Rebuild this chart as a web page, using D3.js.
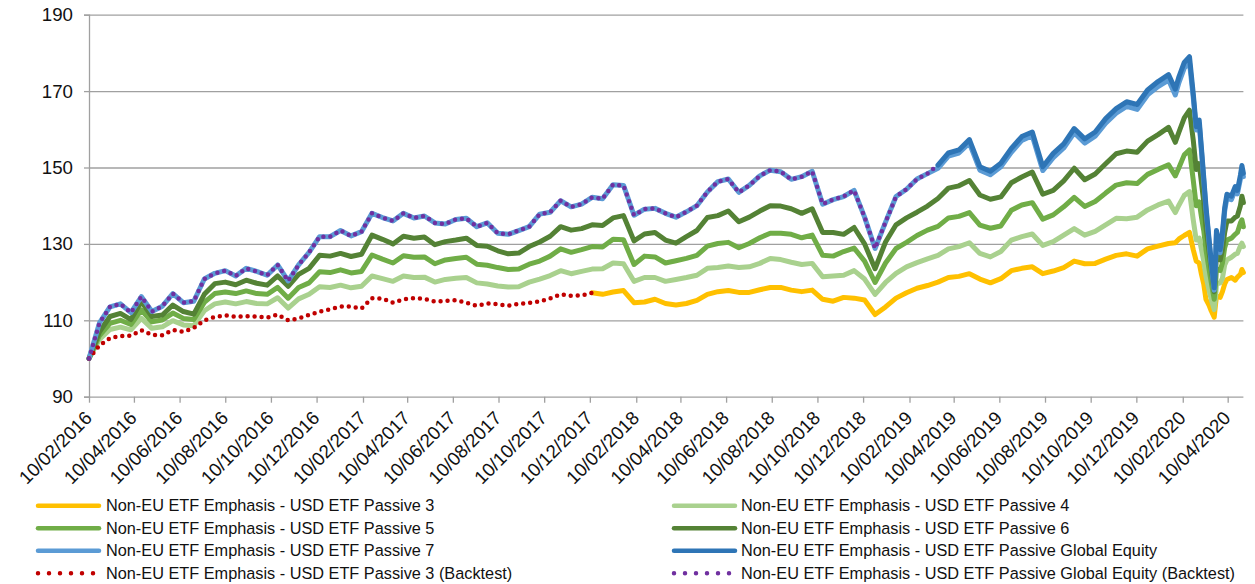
<!DOCTYPE html>
<html><head><meta charset="utf-8">
<script src="https://cdn.jsdelivr.net/npm/d3@7"></script>
<style>
body{margin:0;background:#fff;}
svg{display:block;font-family:"Liberation Sans",Arial,sans-serif;}
</style></head><body>
<svg id="chart" width="1255" height="584"></svg>
<script>
// ---------- DATA ----------
const dates = [
"2016-02-10","2016-02-24","2016-03-09","2016-03-23","2016-04-06","2016-04-20","2016-05-04","2016-05-18","2016-06-01","2016-06-15","2016-06-29","2016-07-13","2016-07-27","2016-08-10","2016-08-24","2016-09-07","2016-09-21","2016-10-05","2016-10-19","2016-11-02","2016-11-16","2016-11-30","2016-12-14","2016-12-28",
"2017-01-11","2017-01-25","2017-02-08","2017-02-22","2017-03-08","2017-03-22","2017-04-05","2017-04-19","2017-05-03","2017-05-17","2017-05-31","2017-06-14","2017-06-28","2017-07-12","2017-07-26","2017-08-09","2017-08-23","2017-09-06","2017-09-20","2017-10-04","2017-10-18","2017-11-01","2017-11-15","2017-11-29","2017-12-13","2017-12-27",
"2018-01-10","2018-01-24","2018-02-07","2018-02-21","2018-03-07","2018-03-21","2018-04-04","2018-04-18","2018-05-02","2018-05-16","2018-05-30","2018-06-13","2018-06-27","2018-07-11","2018-07-25","2018-08-08","2018-08-22","2018-09-05","2018-09-19","2018-10-03","2018-10-17","2018-10-31","2018-11-14","2018-11-28","2018-12-12","2018-12-26",
"2019-01-09","2019-01-23","2019-02-06","2019-02-20","2019-03-06","2019-03-20","2019-04-03","2019-04-17","2019-05-01","2019-05-15","2019-05-29","2019-06-12","2019-06-26","2019-07-10","2019-07-24","2019-08-07","2019-08-21","2019-09-04","2019-09-18","2019-10-02","2019-10-16","2019-10-30","2019-11-13","2019-11-27","2019-12-11","2019-12-25",
"2020-01-08","2020-01-22","2020-01-31","2020-02-05","2020-02-12","2020-02-19","2020-02-24","2020-02-28","2020-03-03","2020-03-06","2020-03-09","2020-03-12","2020-03-16","2020-03-19","2020-03-23","2020-03-25","2020-03-26","2020-03-31","2020-04-03","2020-04-06","2020-04-09","2020-04-15","2020-04-20","2020-04-23","2020-04-27","2020-04-29","2020-05-01"
];

// Passive 3 (live, from Dec 2017 to end)
const passive3 = [
117.2,116.8,117.4,117.8,114.6,114.8,115.5,114.4,114.0,114.4,115.2,116.8,117.5,117.8,117.3,117.3,118.0,118.6,118.6,117.9,117.5,117.9,115.5,115.0,116.0,115.8,115.3,111.5,
113.5,115.8,117.2,118.4,119.1,120.0,121.2,121.5,122.2,120.8,119.8,120.9,123.0,123.6,124.0,122.2,122.9,123.8,125.5,124.8,124.9,126.0,127.0,127.4,126.8,128.7,
129.4,130.1,130.3,131.3,132.2,133.0,128.5,125.5,125.0,122.0,119.5,115.5,114.0,112.5,110.8,114.5,116.3,116.0,117.5,119.5,120.7,121.2,120.5,121.3,122.0,123.3,122.5
];
// Passive 3 backtest (from start to Dec 2017)
const passive3Backtest = [
100,103.4,105.3,105.9,106.0,107.4,106.2,106.1,107.5,107.0,108.0,110.0,110.9,111.3,110.9,111.1,111.0,110.7,111.5,110.0,110.5,111.4,112.3,112.9,
113.6,113.6,113.1,115.8,115.7,114.6,115.5,115.8,115.6,114.9,115.1,115.3,114.6,113.8,114.4,114.2,113.8,114.3,114.6,114.9,115.7,116.8,116.4,116.5,117.2
];
const passive4 = [
100,105.0,107.6,108.2,107.5,110.5,107.9,108.3,109.9,108.8,108.6,112.5,114.3,114.8,114.3,114.9,114.4,114.3,115.9,113.2,115.6,116.8,118.8,118.6,
119.2,118.5,118.9,121.6,120.9,120.2,121.6,121.2,121.3,120.0,120.7,121.0,121.2,119.8,119.5,119.0,118.7,118.8,120.0,120.8,121.7,123.0,122.2,122.8,123.4,123.5,
125.0,124.8,120.2,121.2,121.2,120.2,120.7,121.2,121.8,123.6,123.8,124.2,123.8,124.0,124.9,126.2,125.9,125.2,124.6,124.9,121.4,121.6,121.8,123.0,120.8,116.8,
119.9,122.3,124.0,125.1,126.1,127.0,128.7,129.3,130.3,127.5,126.6,128.0,131.0,131.9,132.6,129.6,130.6,132.3,134.0,132.3,133.3,135.0,136.7,136.6,137.0,138.9,
140.2,141.2,138.2,140.2,142.7,143.7,136.3,131.0,131.5,128.5,125.5,121.5,118.0,115.5,112.8,116.5,119.5,119.8,121.0,124.5,125.8,126.5,127.3,127.5,129.5,130.2,129.3
];
const passive5 = [
100,106.0,109.2,110.0,108.9,112.7,109.6,110.1,111.9,110.5,110.2,114.7,117.0,117.4,117.0,117.7,117.0,116.8,118.6,115.8,118.6,119.8,122.7,122.5,
123.2,122.4,122.8,127.1,126.0,125.0,126.9,126.5,126.6,124.8,125.8,126.2,126.5,124.7,124.4,123.8,123.3,123.4,124.7,125.5,126.8,128.7,127.8,128.5,129.3,129.2,
131.2,131.1,124.6,126.8,126.6,125.0,125.6,126.2,127.0,129.4,130.1,130.4,129.0,130.1,131.6,132.8,132.8,132.5,131.6,132.3,127.0,126.8,128.0,128.9,125.5,119.9,
125.0,128.8,130.4,132.2,133.6,134.6,136.8,137.2,138.2,134.9,134.1,134.7,138.8,140.2,140.8,136.5,137.6,139.7,142.2,139.8,141.1,143.3,145.4,146.0,145.8,148.2,
149.5,150.7,147.8,150.0,153.3,154.6,146.7,140.0,141.0,137.0,133.5,128.5,123.5,120.0,115.5,120.0,123.5,123.0,125.0,129.0,131.0,131.5,132.5,133.0,135.5,136.3,134.5
];
const passive6 = [
100,107.0,111.0,111.8,110.2,114.9,111.0,111.4,114.0,112.3,111.6,116.8,119.6,120.0,119.3,120.5,119.7,119.2,121.6,118.9,122.0,123.6,127.0,126.8,
127.5,126.7,127.3,132.3,131.2,130.0,132.0,131.5,131.8,129.8,130.6,131.0,131.5,129.6,129.4,128.2,127.4,127.6,129.3,130.5,132.0,134.5,133.6,134.0,135.0,134.8,
136.8,137.4,130.8,132.6,133.0,131.0,130.2,131.9,133.5,136.9,137.4,138.6,135.8,137.0,138.6,140.0,139.9,139.2,138.0,139.2,133.0,133.0,132.5,134.3,130.0,123.5,
130.5,135.0,136.8,138.3,139.9,141.9,144.6,145.2,146.6,142.8,141.7,142.3,146.0,147.5,148.8,143.0,144.0,146.5,149.8,146.8,148.3,151.0,153.6,154.3,154.0,156.9,
158.6,160.5,156.6,159.3,163.0,165.0,157.2,149.5,151.0,146.0,141.0,134.5,128.0,123.5,117.5,123.0,127.5,125.8,128.5,133.0,136.0,136.0,137.0,137.3,140.0,142.5,140.8
];
const passive7 = [
100,109.3,113.5,114.3,112.0,116.2,112.3,113.7,117.0,114.6,115.0,120.8,122.3,123.0,121.6,123.6,122.8,121.8,124.5,120.3,124.5,127.8,131.9,131.9,
133.5,132.1,133.2,138.0,136.9,136.0,138.0,136.8,137.3,135.5,135.2,136.4,136.7,134.5,135.5,132.8,132.5,133.5,134.5,137.8,138.3,141.3,139.7,140.4,142.2,141.8,
145.5,145.3,137.5,139.1,139.3,138.0,137.0,138.4,140.0,143.6,146.3,147.0,143.5,145.3,147.8,149.3,148.9,146.9,147.6,149.0,140.4,141.6,142.4,144.0,137.0,128.8,
135.7,142.4,144.3,147.0,148.4,149.8,153.0,153.8,156.4,149.3,148.1,150.2,154.0,157.1,158.3,149.2,152.6,155.1,159.1,156.4,158.2,161.6,164.2,166.0,165.2,169.0,
171.2,172.9,169.0,172.3,176.0,177.5,168.3,159.8,161.4,154.2,146.7,139.0,130.8,124.8,117.9,126.2,132.6,127.7,132.2,138.6,142.1,141.6,144.1,143.1,147.0,149.5,147.6
];
// Global Equity (live, from Mar 2019 to end)
const globalEquity = [
150.6,153.8,154.6,157.3,150.2,149.0,151.1,155.0,158.1,159.3,150.2,153.7,156.2,160.2,157.5,159.3,162.8,165.4,167.2,166.5,170.3,172.5,174.3,
170.5,173.8,177.5,179.0,169.4,160.7,162.4,155.0,147.5,139.8,131.5,125.5,118.5,127.0,133.5,128.5,133.0,139.5,143.0,142.5,145.0,144.0,148.0,150.5,148.5
];
// Global Equity backtest (from start to Mar 2019)
const globalEquityBacktest = [
100,109.3,113.5,114.3,112.0,116.2,112.3,113.7,117.0,114.6,115.0,120.8,122.3,123.0,121.6,123.6,122.8,121.8,124.5,120.3,124.5,127.8,131.9,131.9,
133.5,132.1,133.2,138.0,136.9,136.0,138.0,136.8,137.3,135.5,135.2,136.4,136.7,134.5,135.5,132.8,132.5,133.5,134.5,137.8,138.3,141.3,139.7,140.4,142.2,141.8,
145.5,145.3,137.5,139.1,139.3,138.0,137.0,138.4,140.0,143.6,146.3,147.0,143.5,145.3,147.8,149.3,148.9,146.9,147.6,149.0,140.4,141.6,142.4,144.0,137.0,128.8,
135.7,142.4,144.3,147.0,148.4,150.6
];

const tickDates = ["2016-02-10","2016-04-10","2016-06-10","2016-08-10","2016-10-10","2016-12-10",
"2017-02-10","2017-04-10","2017-06-10","2017-08-10","2017-10-10","2017-12-10",
"2018-02-10","2018-04-10","2018-06-10","2018-08-10","2018-10-10","2018-12-10",
"2019-02-10","2019-04-10","2019-06-10","2019-08-10","2019-10-10","2019-12-10",
"2020-02-10","2020-04-10"];
const yTicks = [90,110,130,150,170,190];

const seriesNames = {
  p3:"Non-EU ETF Emphasis - USD ETF Passive 3",
  p4:"Non-EU ETF Emphasis - USD ETF Passive 4",
  p5:"Non-EU ETF Emphasis - USD ETF Passive 5",
  p6:"Non-EU ETF Emphasis - USD ETF Passive 6",
  p7:"Non-EU ETF Emphasis - USD ETF Passive 7",
  ge:"Non-EU ETF Emphasis - USD ETF Passive Global Equity",
  p3bt:"Non-EU ETF Emphasis - USD ETF Passive 3 (Backtest)",
  gebt:"Non-EU ETF Emphasis - USD ETF Passive Global Equity (Backtest)"
};

// ---------- BUILD ----------
const parse = d3.timeParse("%Y-%m-%d");
const fmt = d3.timeFormat("%d/%m/%Y");
const D = dates.map(parse);
const alignStart = v => D.map((d,i) => ({d, v: i < v.length ? v[i] : null}));
const alignEnd = v => { const off = D.length - v.length; return D.map((d,i) => ({d, v: i >= off ? v[i-off] : null})); };

const series = [
  {key:"p3",   pts: alignEnd(passive3),             color:"#FFC000", dotted:false},
  {key:"p4",   pts: alignStart(passive4),           color:"#A9D18E", dotted:false},
  {key:"p5",   pts: alignStart(passive5),           color:"#70AD47", dotted:false},
  {key:"p6",   pts: alignStart(passive6),           color:"#548235", dotted:false},
  {key:"p7",   pts: alignStart(passive7),           color:"#5B9BD5", dotted:false},
  {key:"ge",   pts: alignEnd(globalEquity),         color:"#2E75B6", dotted:false},
  {key:"p3bt", pts: alignStart(passive3Backtest),   color:"#C00000", dotted:true},
  {key:"gebt", pts: alignStart(globalEquityBacktest), color:"#7030A0", dotted:true}
];

const svg = d3.select("#chart");
const L = 89, R = 1243.4, T = 14.7, B = 396.7;
const x = d3.scaleTime().domain(d3.extent(D)).range([L, R]);
const y = d3.scaleLinear().domain([90,190]).range([B, T]);
const gridColor = "#a0a0a0";

// gridlines
const grid = svg.append("g").attr("transform",`translate(${L},0)`)
  .call(d3.axisLeft(y).tickValues(yTicks.filter(t=>t>90)).tickSize(-(R-L)).tickFormat(""));
grid.select(".domain").remove();
grid.selectAll("line").attr("stroke",gridColor).attr("stroke-width",1.3);

// y axis
const ya = svg.append("g").attr("transform",`translate(${L},0)`)
  .call(d3.axisLeft(y).tickValues(yTicks).tickSize(5).tickPadding(11));
ya.select(".domain").attr("stroke",gridColor).attr("stroke-width",1.3);
ya.selectAll("line").attr("stroke",gridColor).attr("stroke-width",1.3);
ya.selectAll("text").attr("font-size","18.7px").attr("fill","#111").attr("font-family","'Liberation Sans',Arial,sans-serif");

// x axis
const xa = svg.append("g").attr("transform",`translate(0,${B})`)
  .call(d3.axisBottom(x).tickValues(tickDates.map(parse)).tickSize(6).tickFormat(fmt));
xa.select(".domain").attr("stroke",gridColor).attr("stroke-width",1.3).attr("d",`M${L},0.5H${R}`);
xa.selectAll("line").attr("stroke",gridColor).attr("stroke-width",1.3);
xa.selectAll("text").attr("font-size","18.7px").attr("fill","#111").attr("font-family","'Liberation Sans',Arial,sans-serif")
  .attr("text-anchor","end").attr("x",null).attr("y",null).attr("dy",null)
  .attr("transform","translate(3.5,22.5) rotate(-45)");

// lines
const line = d3.line().defined(p => p.v != null).x(p => x(p.d)).y(p => y(p.v));
svg.append("g").selectAll("path").data(series).join("path")
  .attr("d", s => line(s.pts))
  .attr("fill","none")
  .attr("stroke", s => s.color)
  .attr("stroke-width", s => s.dotted ? 4.5 : 5)
  .attr("stroke-linejoin","round")
  .attr("stroke-linecap","round")
  .attr("stroke-dasharray", s => s.dotted ? "0 7" : null);

// legend
const legendOrder = [["p3","p5","p7","p3bt"],["p4","p6","ge","gebt"]];
const colX = [{x1:38,x2:99,tx:106},{x1:674,x2:735,tx:741}];
const rowY = [505.7,528.2,550.7,573.2];
const byKey = Object.fromEntries(series.map(s=>[s.key,s]));
legendOrder.forEach((col,ci) => {
  col.forEach((k,ri) => {
    const s = byKey[k], cx = colX[ci], yy = rowY[ri];
    const g = svg.append("g");
    g.append("line").attr("x1",cx.x1).attr("x2",cx.x2).attr("y1",yy).attr("y2",yy)
      .attr("stroke",s.color).attr("stroke-width",4.5).attr("stroke-linecap","round")
      .attr("stroke-dasharray", s.dotted ? "0 11" : null);
    g.append("text").attr("x",cx.tx).attr("y",yy+5.6).attr("font-size","16.3px").attr("fill","#111")
      .text(seriesNames[k]);
  });
});
</script>
</body></html>
